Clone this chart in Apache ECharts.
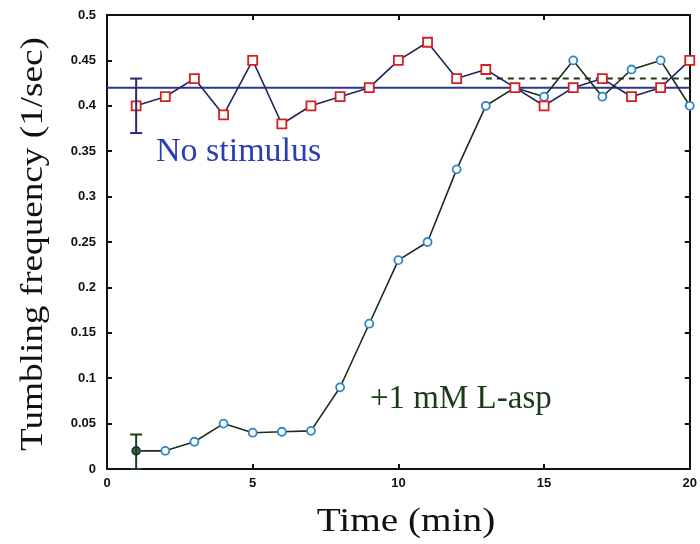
<!DOCTYPE html>
<html><head><meta charset="utf-8">
<script src="https://cdn.jsdelivr.net/npm/echarts@6/dist/echarts.min.js"></script>
<style>html,body{margin:0;padding:0;background:#fff}#c{width:700px;height:544px}</style>
</head><body><div id="c"></div>
<script>
const times = [1,2,3,4,5,6,7,8,9,10,11,12,13,14,15,16,17,18,19,20];
const noStimulus = [0.40,0.41,0.43,0.39,0.45,0.38,0.40,0.41,0.42,0.45,0.47,0.43,0.44,0.42,0.40,0.42,0.43,0.41,0.42,0.45];
const lAsp = [0.02,0.02,0.03,0.05,0.04,0.041,0.042,0.09,0.16,0.23,0.25,0.33,0.40,0.42,0.41,0.45,0.41,0.44,0.45,0.40];
const noStimMean = 0.42;
const lAspPlateau = 0.43;
const plateauStart = 13;
const errBars = [[1,0.37,0.43],[1,0.0,0.038]];
const errColors = ['#2a2a70','#1f3a1f'];

const chart = echarts.init(document.getElementById('c'));
const pair = (xs, ys) => xs.map((x,i)=>[x, ys[i]]);
const axisBase = {
  axisLine:{show:true,onZero:false,lineStyle:{color:'#111',width:2}},
  axisTick:{show:true,inside:true,length:5,lineStyle:{color:'#111',width:2}},
  splitLine:{show:false}
};
chart.setOption({
  animation:false,
  grid:{left:107,right:8,top:15,bottom:75},
  xAxis:[Object.assign({
    type:'value',min:0,max:20,interval:5,
    axisLabel:{color:'#111',fontFamily:'Liberation Sans',fontWeight:'bold',fontSize:13,margin:8}
  },axisBase),Object.assign({
    type:'value',position:'top',min:0,max:20,interval:5,axisLabel:{show:false}
  },axisBase)],
  yAxis:[Object.assign({
    type:'value',min:0,max:0.5,interval:0.05,
    axisLabel:{color:'#111',fontFamily:'Liberation Sans',fontWeight:'bold',fontSize:13,margin:11}
  },axisBase),Object.assign({
    type:'value',position:'right',min:0,max:0.5,interval:0.05,axisLabel:{show:false}
  },axisBase)],
  series:[
    {type:'line',data:[[0,noStimMean],[20,noStimMean]],symbol:'none',
     lineStyle:{color:'#2c3590',width:2},z:2},
    {type:'line',data:[[plateauStart,lAspPlateau],[20,lAspPlateau]],symbol:'none',
     lineStyle:{color:'#1e3a14',width:2,type:[6,5]},z:2},
    {type:'line',data:pair(times,lAsp),symbol:'circle',symbolSize:8,
     lineStyle:{color:'#1a2e1a',width:1.6},
     itemStyle:{color:'#ffffff',borderColor:'#2f86c4',borderWidth:1.8},z:3},
    {type:'line',data:pair(times,noStimulus),symbol:'rect',symbolSize:9,
     lineStyle:{color:'#23235e',width:1.6},
     itemStyle:{color:'#ffffff',borderColor:'#d42020',borderWidth:1.8},z:4},
    {type:'scatter',data:[[times[0],lAsp[0]]],symbol:'circle',symbolSize:8,
     itemStyle:{color:'#1f3a1f',borderColor:'#0a1a0a',borderWidth:1},z:6},
    {type:'custom',data:errBars,z:5,
     renderItem:function(params,api){
       const x=api.value(0), lo=api.value(1), hi=api.value(2);
       const pLo=api.coord([x,lo]), pHi=api.coord([x,hi]);
       const c=errColors[params.dataIndex], w=6;
       const st={stroke:c,lineWidth:2};
       return {type:'group',children:[
         {type:'line',shape:{x1:pLo[0],y1:pLo[1],x2:pHi[0],y2:pHi[1]},style:st},
         {type:'line',shape:{x1:pLo[0]-w,y1:pLo[1],x2:pLo[0]+w,y2:pLo[1]},style:st},
         {type:'line',shape:{x1:pHi[0]-w,y1:pHi[1],x2:pHi[0]+w,y2:pHi[1]},style:st}
       ]};
     }}
  ],
  graphic:[
    {type:'text',x:156,y:135,style:{text:'No stimulus',fill:'#2a3fb0',font:'34px "Liberation Serif"'}},
    {type:'text',x:370,y:383,style:{text:'+1 mM L-asp',fill:'#1a3a1a',font:'33px "Liberation Serif"'}},
    {type:'text',x:406,y:522,scaleX:1.19,
     style:{text:'Time (min)',fill:'#111',font:'33px "Liberation Serif"',align:'center',verticalAlign:'middle'}},
    {type:'text',x:34,y:244,rotation:Math.PI/2,scaleX:1.2,
     style:{text:'Tumbling frequency (1/sec)',fill:'#111',font:'31px "Liberation Serif"',align:'center',verticalAlign:'middle'}}
  ]
});
</script></body></html>
